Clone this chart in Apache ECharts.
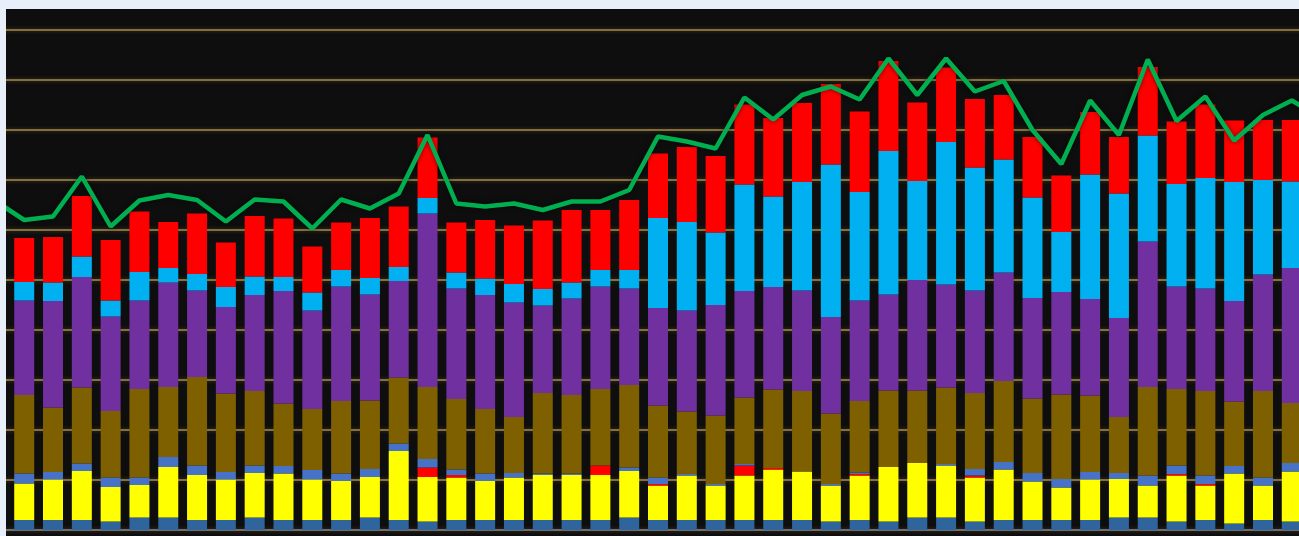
<!DOCTYPE html>
<html>
<head>
<meta charset="utf-8">
<script src="https://cdn.jsdelivr.net/npm/echarts@6/dist/echarts.min.js"></script>
<style>
    html, body {margin: 0; padding: 0; background: #e8eefa; width: 1299px; height: 536px; overflow: hidden;}
    #box {position: absolute; left: 6px; top: 9px; width: 1293px; height: 527px; background: #0e0e0e; overflow: hidden;}
    #chart {position: absolute; left: -25px; top: 0; width: 1354px; height: 527px;}
</style>
</head>
<body>
<div id="box"><div id="chart"></div></div>
<script>
// 类目 (first and last sit just outside the visible window)
var categories = ['0','1','2','3','4','5','6','7','8','9','10','11','12','13','14','15','16','17','18','19','20',
    '21','22','23','24','25','26','27','28','29','30','31','32','33','34','35','36','37','38','39','40',
    '41','42','43','44','45','46'];

// stacked bar layers, bottom to top
var steel = [null,2.0,2.0,2.0,1.7,2.5,2.5,2.0,2.0,2.5,2.0,2.0,2.0,2.5,2.0,1.7,2.0,2.0,2.0,2.0,2.0,2.0,2.5,
    2.0,2.0,2.0,2.0,2.0,2.0,1.7,2.0,1.7,2.5,2.5,1.7,2.0,2.0,2.0,2.0,2.5,2.5,1.7,2.0,1.3,2.0,1.7,null];
var yellow = [null,7.3,8.1,9.8,6.9,6.5,10.1,9.0,8.1,8.9,9.3,8.1,7.8,8.1,13.8,8.9,8.5,7.8,8.5,9.0,9.0,9.0,9.3,
    6.9,8.9,6.9,8.9,10.1,9.7,7.2,8.9,10.9,10.9,10.4,8.8,10.1,7.7,6.5,8.1,7.7,6.4,9.2,6.9,10.0,6.9,10.0,null];
var lowRed = [null,0,0,0,0,0,0,0,0,0,0,0,0,0,0,1.9,0.5,0,0,0,0,1.9,0,
    0.3,0,0,2.0,0.3,0,0,0.3,0,0,0,0.4,0,0,0,0,0,0,0.3,0.3,0,0,0,null];
var blue = [null,2.0,1.5,1.5,1.9,1.5,2.0,1.9,1.5,1.5,1.5,1.9,1.5,1.6,1.5,1.7,1.1,1.5,0.9,0.3,0.3,0,0.7,
    1.3,0.3,0.3,0.3,0,0,0.3,0.3,0,0,0.3,1.3,1.5,1.7,1.7,1.5,1.2,2.0,1.7,1.7,1.5,1.6,1.7,null];
var brown = [null,15.7,12.9,15.2,13.3,17.7,14.0,17.7,15.7,14.9,12.5,12.2,14.5,13.7,13.2,14.4,14.1,12.9,11.2,16.1,15.7,15.3,16.5,
    14.4,12.5,13.7,13.3,15.7,16.1,14.1,14.3,15.3,14.5,15.3,15.2,16.2,14.9,16.9,15.3,11.2,17.7,15.3,16.9,12.9,17.3,12.0,null];
var purple = [null,18.9,21.3,22.1,18.9,17.7,20.9,17.3,17.3,19.2,22.5,19.7,22.9,21.2,19.3,34.7,22.1,22.8,22.9,17.5,19.3,20.5,19.3,
    19.5,20.2,22.1,21.3,20.5,20.1,19.3,20.1,19.2,22.1,20.6,20.5,21.7,20.1,20.5,19.3,19.8,29.1,20.5,20.5,20.1,23.3,27.0,null];
var cyan = [null,3.7,3.7,4.1,3.2,5.7,2.9,3.3,4.0,3.7,2.8,3.6,3.3,3.3,2.8,3.1,3.2,3.3,3.7,3.3,3.2,3.3,3.7,
    18.0,17.7,14.5,21.3,18.1,21.7,30.5,21.7,28.7,19.8,28.5,24.6,22.6,20.1,12.0,24.9,24.9,21.2,20.5,22.1,23.8,18.9,17.3,null];
var topRed = [null,8.8,9.1,12.1,12.1,12.1,9.2,12.1,8.9,12.1,11.7,9.2,9.5,12.0,12.1,12.1,10.0,11.7,11.7,13.7,14.5,12.0,14.0,
    12.9,15.0,15.3,16.0,15.7,15.8,16.1,16.1,18.0,15.7,14.9,13.7,12.9,12.1,11.3,12.5,11.3,13.7,12.5,14.7,12.3,12.0,12.3,null];

// green line
var lineData = [65.8,62,62.7,70.7,60.7,65.9,67,66,61.7,66.1,65.7,60.3,66.1,64.3,67.3,79,65.3,64.7,65.3,64,65.7,65.7,68,
    78.7,77.7,76.3,86.5,82.1,87,88.7,86.1,94.3,87,94.3,87.7,89.8,80,73.2,85.9,79,94.1,81.8,86.7,77.9,83,85.9,82.5];

var myChart = echarts.init(document.getElementById('chart'));

function barLayer(name, data, color) {
    return {
        name: name,
        type: 'bar',
        stack: 'total',
        barWidth: 20,
        data: data,
        itemStyle: {color: color}
    };
}

var option = {
    animation: false,
    backgroundColor: 'transparent',
    grid: {left: 0, right: 0, top: 21, bottom: 6},
    xAxis: {
        type: 'category',
        data: categories,
        axisLine: {lineStyle: {color: '#6e6e6e', width: 2}},
        axisTick: {show: false},
        axisLabel: {show: false}
    },
    yAxis: {
        type: 'value',
        min: 0,
        max: 100,
        interval: 10,
        axisLine: {show: false},
        axisTick: {show: false},
        axisLabel: {show: false},
        splitLine: {
            lineStyle: {
                color: '#84703e',
                width: 2,
                shadowColor: 'rgba(130,110,60,0.45)',
                shadowBlur: 4
            }
        }
    },
    series: [
        barLayer('s1', steel, '#2f649c'),
        barLayer('s2', yellow, '#ffff00'),
        barLayer('s3', lowRed, '#ff0000'),
        barLayer('s4', blue, '#4673c8'),
        barLayer('s5', brown, '#7f6000'),
        barLayer('s6', purple, '#7030a0'),
        barLayer('s7', cyan, '#00b0f0'),
        barLayer('s8', topRed, '#ff0000'),
        {
            name: 'line',
            type: 'line',
            data: lineData,
            symbol: 'none',
            z: 5,
            lineStyle: {
                color: '#00b050',
                width: 4.5,
                shadowColor: 'rgba(0,0,0,0.5)',
                shadowBlur: 5
            }
        }
    ]
};

myChart.setOption(option);
</script>
</body>
</html>
